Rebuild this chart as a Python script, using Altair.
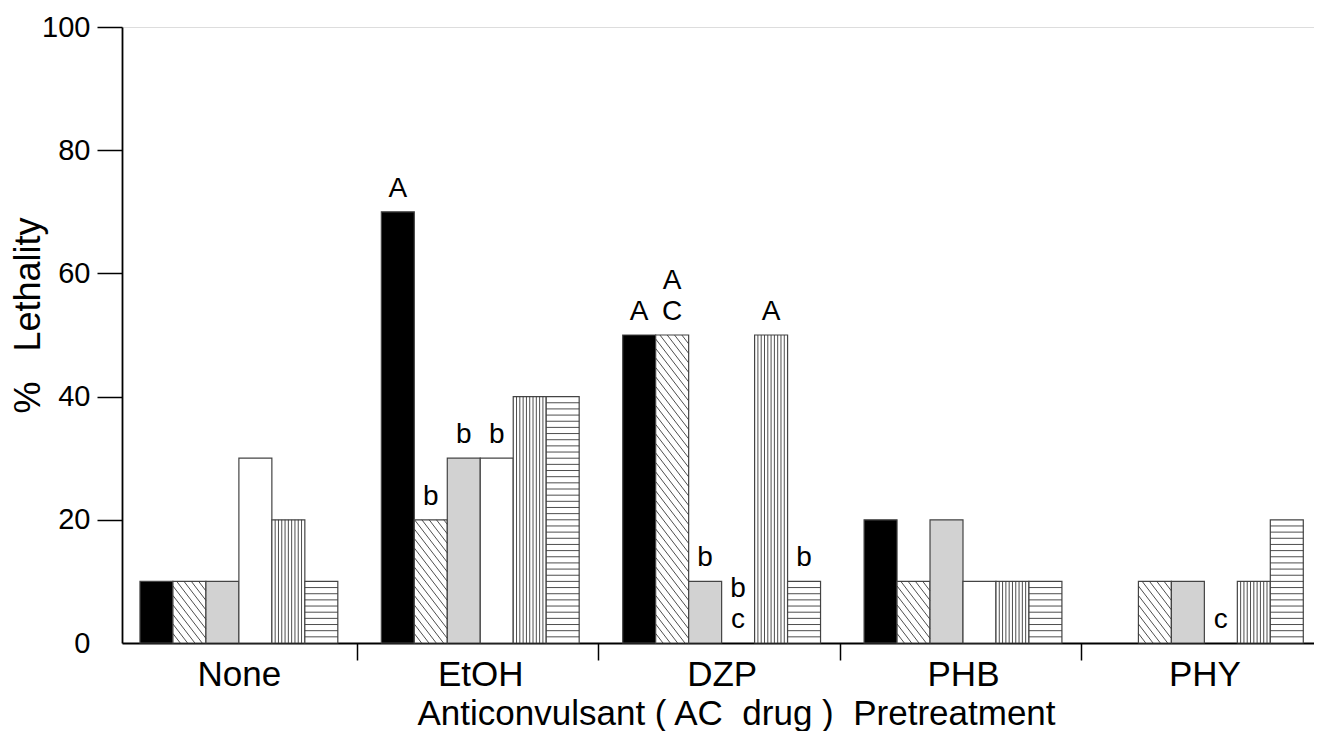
import altair as alt
import pandas as pd
import numpy as np

# ---------------- data ----------------
groups = ["None", "EtOH", "DZP", "PHB", "PHY"]
series = ["black", "diagonal", "gray", "white", "vertical", "horizontal"]
v_black = [10, 70, 50, 20, 0]
v_diagonal = [10, 20, 50, 10, 10]
v_gray = [10, 30, 10, 20, 10]
v_white = [30, 30, 0, 10, 0]
v_vertical = [20, 40, 50, 10, 10]
v_horizontal = [10, 40, 10, 10, 20]

ann_group = ["EtOH", "EtOH", "EtOH", "EtOH", "DZP", "DZP", "DZP", "DZP", "DZP", "DZP", "PHY"]
ann_series = ["black", "diagonal", "gray", "white", "black", "diagonal", "gray", "white",
              "vertical", "horizontal", "white"]
ann_lower = ["A", "b", "b", "b", "A", "C", "b", "c", "A", "b", "c"]
ann_upper = ["", "", "", "", "", "A", "", "b", "", "", ""]

NB = "\u00a0"
x_title = "Anticonvulsant ( AC " + NB + "drug ) " + NB + "Pretreatment"
y_title = "%" + NB + NB + NB + "Lethality"

# ---------------- layout ----------------
PLOT_W, PLOT_H = 1192, 616
GROUP_STEP = 7.32
BAR_START = 0.545
X_MAX = 36.15
TICK_OFF = -0.2
FONT = "Liberation Sans"

fills = ["#000000", "#ffffff", "#d2d2d2", "#ffffff", "#ffffff", "#ffffff"]
values = {"black": v_black, "diagonal": v_diagonal, "gray": v_gray, "white": v_white,
          "vertical": v_vertical, "horizontal": v_horizontal}

sx = PLOT_W / X_MAX
sy = PLOT_H / 100.0

rows = []
for g, grp in enumerate(groups):
    for i, s in enumerate(series):
        x0 = round(g * GROUP_STEP + BAR_START + i, 4)
        rows.append({"group": grp, "series": s, "x0": x0, "x1": x0 + 1,
                     "xc": x0 + 0.5, "value": values[s][g], "zero": 0})
bars = pd.DataFrame(rows)
bars_nz = bars[bars["value"] > 0]

# hatch segments derived from bar extents
seg = []
for _, r in bars_nz.iterrows():
    if r["series"] == "vertical":
        for k in range(1, 10):
            xx = r["x0"] + k / 10
            seg.append({"x": xx, "x2": xx, "y": 0, "y2": r["value"]})
    elif r["series"] == "horizontal":
        yy = 1.0
        while yy < r["value"] - 0.3:
            seg.append({"x": r["x0"], "x2": r["x1"], "y": yy, "y2": yy})
            yy += 1.0
    elif r["series"] == "diagonal":
        Wp = sx
        Hp = r["value"] * sy
        k = 1.3
        step = 9.5
        c = step
        while c < k * Wp + Hp:
            xa = max(0.0, (c - Hp) / k)
            xb = min(Wp, c / k)
            seg.append({"x": r["x0"] + xa / sx, "x2": r["x0"] + xb / sx,
                        "y": (c - k * xa) / sy, "y2": (c - k * xb) / sy})
            c += step
hatch = pd.DataFrame(seg)

ann = pd.DataFrame({"group": ann_group, "series": ann_series,
                    "lower": ann_lower, "upper": ann_upper})
ann = ann.merge(bars[["group", "series", "xc", "value"]], on=["group", "series"])

centers = [round(g * GROUP_STEP + BAR_START + 3, 4) for g in range(len(groups))]
bounds = [round(g * GROUP_STEP + TICK_OFF, 4) for g in range(1, len(groups))]
tick_vals = sorted(centers + bounds)
c_js = "[" + ",".join(str(c) for c in centers) + "]"
b_js = "[" + ",".join(str(b) for b in bounds) + "]"
n_js = "[" + ",".join("'" + n + "'" for n in groups) + "]"
label_expr = f"indexof({c_js}, datum.value) >= 0 ? {n_js}[indexof({c_js}, datum.value)] : ''"

xscale = alt.Scale(domain=[0, X_MAX], nice=False, zero=False)
yscale = alt.Scale(domain=[0, 100], nice=False, zero=True)

x_axis = alt.Axis(
    values=tick_vals, labelExpr=label_expr, labelOverlap=False, labelFlush=False,
    tickSize=17, tickWidth=1.5,
    tickColor={"condition": {"test": f"indexof({b_js}, datum.value) >= 0", "value": "#000000"},
               "value": "transparent"},
    domainColor="#000000", domainWidth=1.8, grid=False,
    labelFontSize=35, labelColor="#000000", labelFont=FONT, labelPadding=-3,
    title=x_title, titleFontSize=35, titleFontWeight="normal", titleFont=FONT,
    titleColor="#000000", titlePadding=4, titleX=614,
)
y_axis = alt.Axis(
    values=[0, 20, 40, 60, 80, 100], tickSize=25, tickWidth=1.5,
    tickColor={"condition": {"test": "datum.value === 0", "value": "transparent"},
               "value": "#000000"},
    domainColor="#000000", domainWidth=1.8, grid=False,
    labelFontSize=29, labelColor="#000000", labelFont=FONT, labelPadding=7,
    title=y_title, titleFontSize=36, titleFontWeight="normal", titleFont=FONT,
    titleColor="#000000", titlePadding=-6, titleY=288,
)

X = lambda f: alt.X(f, scale=xscale, axis=x_axis, title=x_title)
Y = lambda f: alt.Y(f, scale=yscale, axis=y_axis, title=y_title)

bar_layer = alt.Chart(bars_nz).mark_bar(stroke="#444444", strokeWidth=1.2).encode(
    x=X("x0:Q"),
    x2="x1:Q",
    y=Y("value:Q"),
    y2="zero:Q",
    fill=alt.Fill("series:N", scale=alt.Scale(domain=series, range=fills), legend=None),
)

hatch_layer = alt.Chart(hatch).mark_rule(stroke="#3a3a3a", strokeWidth=0.9).encode(
    x=X("x:Q"),
    x2="x2:Q",
    y=Y("y:Q"),
    y2="y2:Q",
)

text_lower = alt.Chart(ann).mark_text(
    font=FONT, fontSize=28, color="#000000", baseline="alphabetic", align="center", dy=-15
).encode(
    x=X("xc:Q"),
    y=Y("value:Q"),
    text="lower:N",
)
text_upper = alt.Chart(ann).mark_text(
    font=FONT, fontSize=28, color="#000000", baseline="alphabetic", align="center", dy=-46
).encode(
    x=X("xc:Q"),
    y=Y("value:Q"),
    text="upper:N",
)

chart = alt.layer(bar_layer, hatch_layer, text_lower, text_upper).properties(
    width=PLOT_W, height=PLOT_H,
    autosize=alt.AutoSizeParams(type="none"),
    padding={"left": 114, "top": 19, "right": 0, "bottom": 88},
).configure_view(stroke="transparent", strokeWidth=0).configure(background="#ffffff")

chart.save("out.html", embed_options={"renderer": "svg", "actions": False})
